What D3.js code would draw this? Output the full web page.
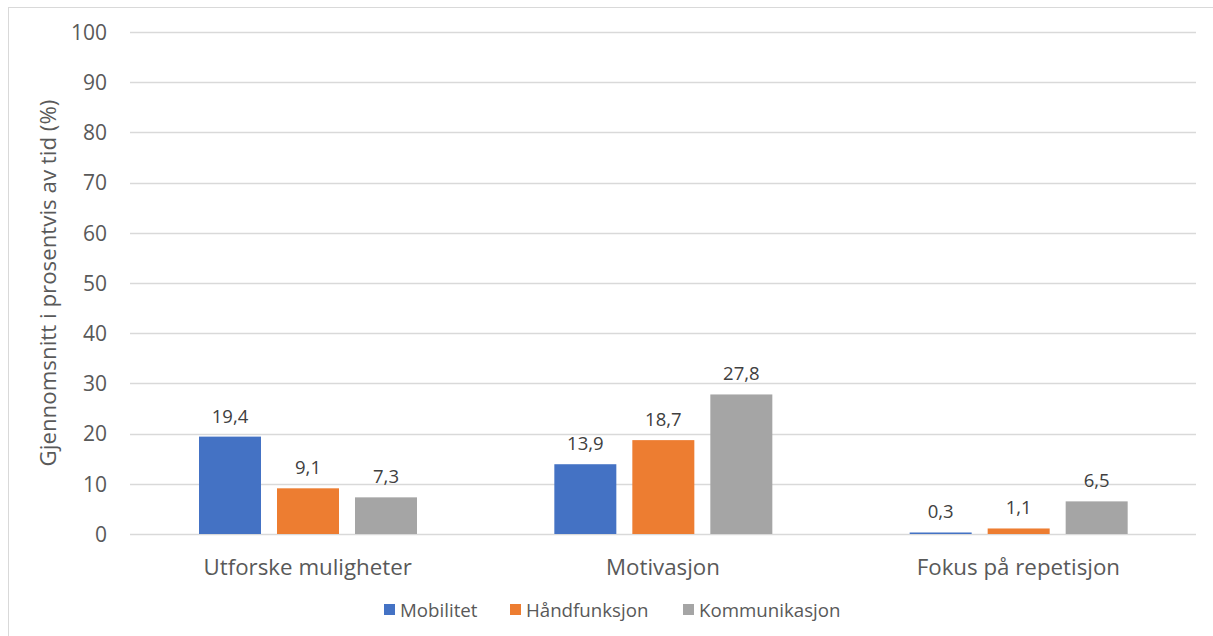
<!DOCTYPE html>
<html><head><meta charset="utf-8">
<script src="https://cdn.jsdelivr.net/npm/d3@7"></script>
<style>body{margin:0;background:#fff;}svg{display:block;font-family:"Open Sans","Noto Sans",sans-serif;}</style>
</head><body>
<svg id="c" width="1213" height="636"></svg>
<script>
const categories = ["Utforske muligheter", "Motivasjon", "Fokus på repetisjon"];
const seriesNames = ["Mobilitet", "Håndfunksjon", "Kommunikasjon"];
const mobilitet = [19.4, 13.9, 0.3];
const handfunksjon = [9.1, 18.7, 1.1];
const kommunikasjon = [7.3, 27.8, 6.5];
const yTicks = [0, 10, 20, 30, 40, 50, 60, 70, 80, 90, 100];
const colors = ["#4472C4", "#ED7D31", "#A5A5A5"];
const yTitle = "Gjennomsnitt i prosentvis av tid (%)";

(function(){
const seriesValues = [mobilitet, handfunksjon, kommunikasjon];
const svg = d3.select("#c");
const pLeft = 130, pRight = 1196, pTop = 32, pBottom = 534;

svg.append("rect").attr("x", 8.5).attr("y", 7.5).attr("width", 1220).attr("height", 700)
  .attr("fill", "none").attr("stroke", "#d9d9d9").attr("stroke-width", 1);

const y = d3.scaleLinear().domain([0, 100]).range([pBottom, pTop]);
const x0 = d3.scaleBand().domain(categories).range([pLeft, pRight]).paddingInner(0).paddingOuter(0);
const x1 = d3.scaleBand().domain(seriesNames).range([69, 69 + 218]).paddingInner(16/78).paddingOuter(0);

svg.append("g").selectAll("line").data(yTicks).join("line")
  .attr("x1", pLeft).attr("x2", pRight)
  .attr("y1", d => Math.round(y(d)) + 0.5).attr("y2", d => Math.round(y(d)) + 0.5)
  .attr("stroke", "#d9d9d9").attr("stroke-width", 1.5);

const yAxis = d3.axisLeft(y).tickValues(yTicks).tickSize(0).tickPadding(0);
const gy = svg.append("g").attr("transform", `translate(107,0)`).call(yAxis);
gy.select(".domain").remove();
gy.selectAll("text").attr("fill", "#595959").attr("font-size", 21).attr("dy", "0.35em")
  .style("font-family", "'Open Sans','Noto Sans',sans-serif");

const xAxis = d3.axisBottom(x0).tickSize(0).tickPadding(0);
const gx = svg.append("g").attr("transform", `translate(0,567)`).call(xAxis);
gx.select(".domain").remove();
gx.selectAll("text").attr("fill", "#595959").attr("font-size", 22.3).attr("dy", "0.35em")
  .style("font-family", "'Open Sans','Noto Sans',sans-serif");

const groups = svg.append("g").selectAll("g").data(categories).join("g")
  .attr("transform", d => `translate(${x0(d)},0)`);
groups.each(function(cat, ci) {
  const g = d3.select(this);
  seriesNames.forEach((s, si) => {
    const v = seriesValues[si][ci];
    g.append("rect").attr("x", x1(s)).attr("width", x1.bandwidth())
      .attr("y", y(v)).attr("height", pBottom - y(v)).attr("fill", colors[si]);
    g.append("text").attr("x", x1(s) + x1.bandwidth() / 2).attr("y", y(v) - 14)
      .attr("text-anchor", "middle").attr("font-size", 18.5).attr("fill", "#404040")
      .text(String(v).replace(".", ","));
  });
});

svg.append("text").attr("transform", `translate(48,283) rotate(-90)`)
  .attr("text-anchor", "middle").attr("dy", "0.35em").attr("font-size", 22.3).attr("fill", "#595959")
  .text(yTitle);

const legendX = [384, 510, 683];
const lg = svg.append("g").selectAll("g").data(seriesNames).join("g")
  .attr("transform", (d, i) => `translate(${legendX[i]},610)`);
lg.append("rect").attr("x", 0).attr("y", -6).attr("width", 11).attr("height", 11)
  .attr("fill", (d, i) => colors[i]);
lg.append("text").attr("x", 16).attr("dy", "0.35em").attr("font-size", 18.7).attr("fill", "#595959")
  .text(d => d);
})();
</script>
</body></html>
